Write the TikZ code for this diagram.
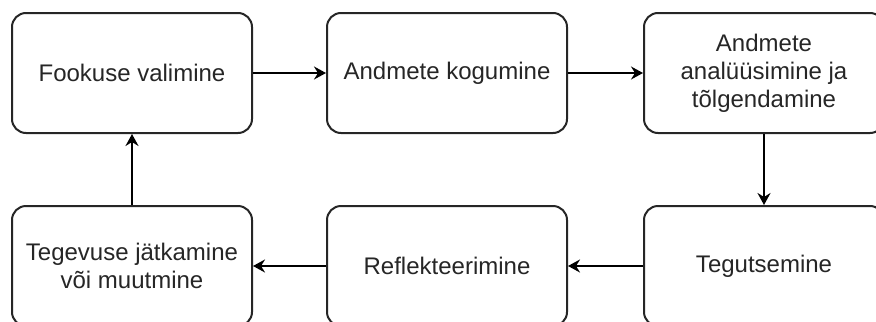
\documentclass[tikz,border=0pt]{standalone}
\usepackage{fontspec}
\setmainfont{Liberation Sans}
\usetikzlibrary{arrows.meta}
\begin{document}
\begin{tikzpicture}[x=0.5pt,y=-0.5pt,
  box/.style={draw=black!85, line width=1pt, rounded corners=7pt,
    minimum width=120pt, minimum height=60pt, align=center,
    font=\fontsize{12}{14}\selectfont, text=black!85, inner sep=0pt, fill=white},
  conn/.style={draw=black, line width=1pt,
    -{Stealth[length=6pt,width=6.5pt,inset=2pt]}}]
\useasboundingbox (0,0) rectangle (876,321);
\node[box] (a) at (132,73) {Fookuse valimine};
\node[box] (b) at (447,73) {Andmete kogumine};
\node[box] (c) at (764,73) {Andmete\\analüüsimine ja\\tõlgendamine};
\node[box] (d) at (764,266) {Tegutsemine};
\node[box] (e) at (447,266) {Reflekteerimine};
\node[box] (f) at (132,266) {Tegevuse jätkamine\\või muutmine};
\draw[conn] (a) -- (b);
\draw[conn] (b) -- (c);
\draw[conn] (c) -- (d);
\draw[conn] (d) -- (e);
\draw[conn] (e) -- (f);
\draw[conn] (f) -- (a);
\end{tikzpicture}
\end{document}
